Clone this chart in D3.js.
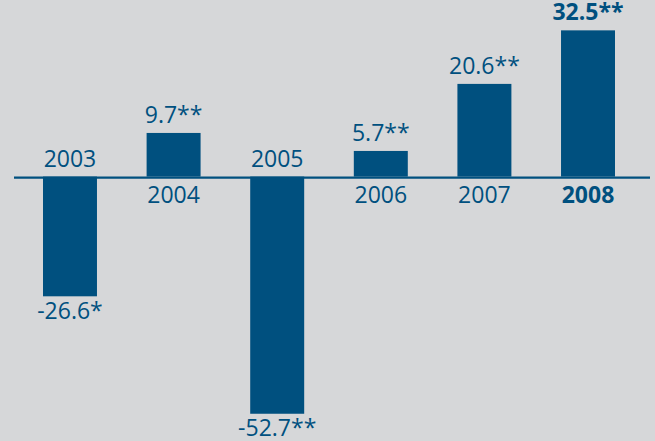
<!DOCTYPE html>
<html>
<head>
<meta charset="utf-8">
<script src="https://cdn.jsdelivr.net/npm/d3@7"></script>
<style>
  html, body { margin: 0; padding: 0; background: #d6d7d9; }
  svg { display: block; }
  text { font-family: "Open Sans", "DejaVu Sans", sans-serif; fill: #00507f; }
</style>
</head>
<body>
<svg id="chart" width="655" height="441"></svg>
<script>
// Yearly change, in percent
const years = ["2003", "2004", "2005", "2006", "2007", "2008"];
const values = [-26.6, 9.7, -52.7, 5.7, 20.6, 32.5];
const valueLabels = ["-26.6*", "9.7**", "-52.7**", "5.7**", "20.6**", "32.5**"];
const highlightYear = "2008";

const W = 655, H = 441;
const barColor = "#00507f";

const svg = d3.select("#chart");
svg.append("rect").attr("width", W).attr("height", H).attr("fill", "#d6d7d9");

const x = d3.scaleBand()
  .domain(years)
  .range([43, 615])
  .paddingInner(0.479)
  .paddingOuter(0);

const y = d3.scaleLinear()
  .domain([-60, 40])
  .range([176.6 + 60 * 4.5, 176.6 - 40 * 4.5]);

const data = years.map((yr, i) => ({ year: yr, value: values[i], label: valueLabels[i] }));

// bars
svg.append("g").selectAll("rect")
  .data(data)
  .join("rect")
  .attr("x", d => x(d.year))
  .attr("width", x.bandwidth())
  .attr("y", d => Math.min(y(d.value), y(0)))
  .attr("height", d => Math.abs(y(d.value) - y(0)))
  .attr("fill", barColor);

// zero line
svg.append("line")
  .attr("x1", 14).attr("x2", 650)
  .attr("y1", y(0) + 1).attr("y2", y(0) + 1)
  .attr("stroke", barColor)
  .attr("stroke-width", 2.2);

const cx = d => x(d.year) + x.bandwidth() / 2;
const isBold = d => d.year === highlightYear;

// value labels: above positive bars, below negative bars
svg.append("g").selectAll("text")
  .data(data)
  .join("text")
  .attr("x", cx)
  .attr("y", d => d.value >= 0 ? y(d.value) - 10 : y(d.value) + 22.5)
  .attr("text-anchor", "middle")
  .attr("font-size", 23)
  .attr("font-weight", d => isBold(d) ? 700 : 400)
  .text(d => d.label);

// year labels: opposite side of the zero line from the bar
svg.append("g").selectAll("text")
  .data(data)
  .join("text")
  .attr("x", cx)
  .attr("y", d => d.value >= 0 ? y(0) + 26 : y(0) - 10)
  .attr("text-anchor", "middle")
  .attr("font-size", 23)
  .attr("font-weight", d => isBold(d) ? 700 : 400)
  .text(d => d.year);
</script>
</body>
</html>
